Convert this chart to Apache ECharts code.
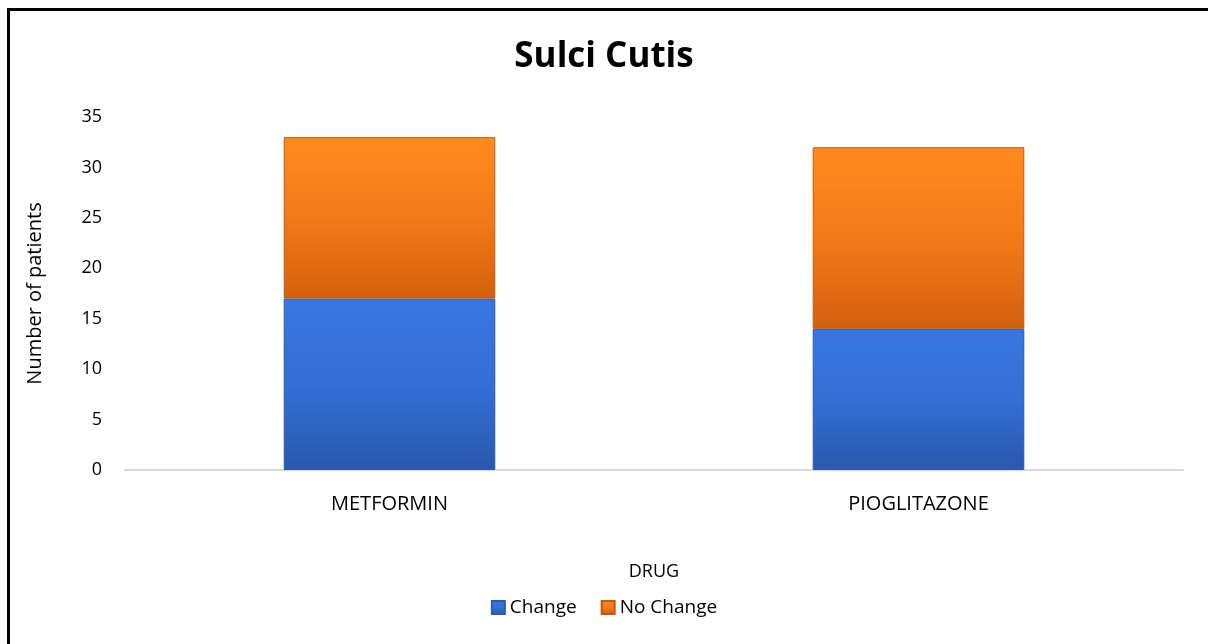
<!DOCTYPE html>
<html><head><meta charset="utf-8">
<script src="https://cdn.jsdelivr.net/npm/echarts@6/dist/echarts.min.js"></script>
<style>
html,body{margin:0;padding:0;background:#fff;overflow:hidden}
#frame{position:absolute;left:7px;top:8px;width:1300px;height:800px;border:3px solid #000;box-sizing:border-box}
#chart{position:absolute;left:0;top:0;width:1208px;height:644px}
</style></head>
<body>
<div id="frame"></div>
<div id="chart"></div>
<script>
const categories = ['METFORMIN', 'PIOGLITAZONE'];
const changeValues = [17, 14];
const noChangeValues = [16, 18];
const yTicks = { min: 0, max: 35, interval: 5 };

const chart = echarts.init(document.getElementById('chart'), null, { renderer: 'canvas' });
const font = 'Open Sans, Noto Sans, sans-serif';
function grad(top, mid, bottom) {
  return new echarts.graphic.LinearGradient(0, 0, 0, 1, [
    { offset: 0, color: top }, { offset: 0.5, color: mid }, { offset: 1, color: bottom }
  ]);
}
chart.setOption({
  animation: false,
  title: { text: 'Sulci Cutis', left: 'center', top: 35,
    textStyle: { fontFamily: font, fontSize: 35, fontWeight: 'bold', color: '#000' } },
  legend: { bottom: 22, left: 'center', itemWidth: 13, itemHeight: 13, itemGap: 24,
    icon: 'rect', textStyle: { fontFamily: font, fontSize: 19, color: '#000' },
    data: ['Change', 'No Change'] },
  grid: { left: 125, right: 25, top: 117, bottom: 174 },
  xAxis: { type: 'category', data: categories, name: 'DRUG', nameLocation: 'middle', nameGap: 93,
    nameTextStyle: { fontFamily: font, fontSize: 18, color: '#000' },
    axisLine: { lineStyle: { color: '#d9d9d9', width: 2 } }, axisTick: { show: false },
    axisLabel: { fontFamily: font, fontSize: 20, color: '#000', margin: 24 } },
  yAxis: { type: 'value', min: yTicks.min, max: yTicks.max, interval: yTicks.interval,
    name: 'Number of patients', nameLocation: 'middle', nameGap: 80,
    nameTextStyle: { fontFamily: font, fontSize: 20, color: '#000' },
    splitLine: { show: false }, axisLine: { show: false }, axisTick: { show: false },
    axisLabel: { fontFamily: font, fontSize: 18, color: '#000', margin: 23 } },
  series: [
    { name: 'Change', type: 'bar', stack: 's', barWidth: '40%', data: changeValues,
      itemStyle: { color: grad('#3877e0', '#3270d6', '#2a58ad'), borderColor: '#2b5bb0', borderWidth: 1 } },
    { name: 'No Change', type: 'bar', stack: 's', barWidth: '40%', data: noChangeValues,
      itemStyle: { color: grad('#ff8a1e', '#f47a18', '#d2600f'), borderColor: '#c25a10', borderWidth: 1 } }
  ]
});
</script>
</body></html>
